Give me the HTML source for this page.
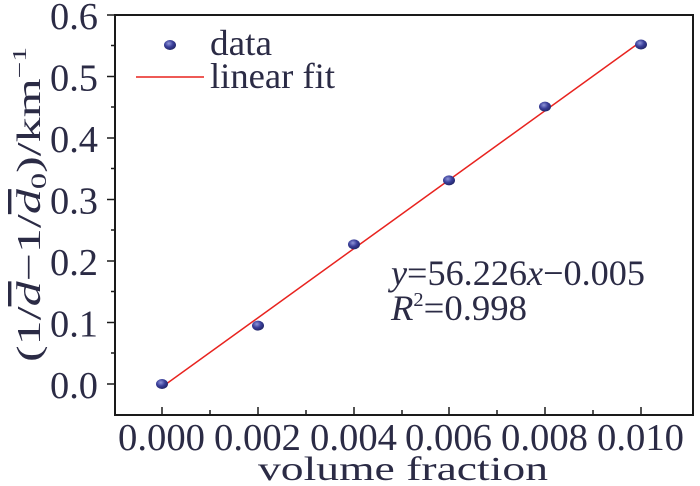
<!DOCTYPE html>
<html><head><meta charset="utf-8"><style>
html,body{margin:0;padding:0;background:#fff;}
svg{display:block;font-family:"Liberation Serif","Times New Roman",serif;fill:#2b2b45;}
</style></head><body>
<svg width="700" height="486" viewBox="0 0 700 486" xmlns="http://www.w3.org/2000/svg">
<g stroke="#1a1a1a" stroke-width="2" fill="none">
<rect x="115" y="15" width="578" height="400"/>
</g>
<g stroke="#1a1a1a" stroke-width="1.5">
<line x1="107" y1="384" x2="115" y2="384"/>
<line x1="107" y1="322.5" x2="115" y2="322.5"/>
<line x1="107" y1="261" x2="115" y2="261"/>
<line x1="107" y1="199.5" x2="115" y2="199.5"/>
<line x1="107" y1="138" x2="115" y2="138"/>
<line x1="107" y1="76.5" x2="115" y2="76.5"/>
<line x1="107" y1="15" x2="115" y2="15"/>
<line x1="111" y1="353" x2="115" y2="353"/>
<line x1="111" y1="291.5" x2="115" y2="291.5"/>
<line x1="111" y1="230" x2="115" y2="230"/>
<line x1="111" y1="168.5" x2="115" y2="168.5"/>
<line x1="111" y1="107" x2="115" y2="107"/>
<line x1="111" y1="45.5" x2="115" y2="45.5"/>
<line x1="162" y1="407" x2="162" y2="415"/>
<line x1="210" y1="410" x2="210" y2="415"/>
<line x1="258" y1="407" x2="258" y2="415"/>
<line x1="306" y1="410" x2="306" y2="415"/>
<line x1="354" y1="407" x2="354" y2="415"/>
<line x1="402" y1="410" x2="402" y2="415"/>
<line x1="449" y1="407" x2="449" y2="415"/>
<line x1="497" y1="410" x2="497" y2="415"/>
<line x1="545" y1="407" x2="545" y2="415"/>
<line x1="593" y1="410" x2="593" y2="415"/>
<line x1="641" y1="407" x2="641" y2="415"/>
</g>
<g font-size="38">
<text x="50" y="398" textLength="48" lengthAdjust="spacingAndGlyphs">0.0</text>
<text x="50" y="336.5" textLength="48" lengthAdjust="spacingAndGlyphs">0.1</text>
<text x="50" y="275" textLength="48" lengthAdjust="spacingAndGlyphs">0.2</text>
<text x="50" y="213.5" textLength="48" lengthAdjust="spacingAndGlyphs">0.3</text>
<text x="50" y="152" textLength="48" lengthAdjust="spacingAndGlyphs">0.4</text>
<text x="50" y="90.5" textLength="48" lengthAdjust="spacingAndGlyphs">0.5</text>
<text x="50" y="29" textLength="48" lengthAdjust="spacingAndGlyphs">0.6</text>
</g>
<g font-size="38">
<text x="118" y="450" textLength="87" lengthAdjust="spacingAndGlyphs">0.000</text>
<text x="214" y="450" textLength="87" lengthAdjust="spacingAndGlyphs">0.002</text>
<text x="310" y="450" textLength="87" lengthAdjust="spacingAndGlyphs">0.004</text>
<text x="405" y="450" textLength="87" lengthAdjust="spacingAndGlyphs">0.006</text>
<text x="501" y="450" textLength="87" lengthAdjust="spacingAndGlyphs">0.008</text>
<text x="597" y="450" textLength="87" lengthAdjust="spacingAndGlyphs">0.010</text>
</g>
<text x="258" y="480" font-size="34" textLength="290" lengthAdjust="spacingAndGlyphs">volume fraction</text>
<text transform="translate(40,362) rotate(-90)" font-size="34" textLength="315" lengthAdjust="spacingAndGlyphs">(1/<tspan font-style="italic" text-decoration="overline">d</tspan>−1/<tspan font-style="italic" text-decoration="overline">d</tspan><tspan font-size="22" dy="6">0</tspan><tspan dy="-6">)/km</tspan><tspan font-size="20" dy="-14">−1</tspan></text>
<line x1="162" y1="387" x2="641" y2="41.5" stroke="#e8231f" stroke-width="1.5"/>
<defs><radialGradient id="g" cx="0.4" cy="0.35" r="0.7"><stop offset="0" stop-color="#8f95d8"/><stop offset="0.5" stop-color="#3a3f9a"/><stop offset="1" stop-color="#1f2260"/></radialGradient></defs>
<g fill="url(#g)">
<ellipse cx="162" cy="384" rx="6" ry="5"/>
<ellipse cx="258" cy="325.6" rx="6" ry="5"/>
<ellipse cx="354" cy="244.4" rx="6" ry="5"/>
<ellipse cx="449" cy="180.4" rx="6" ry="5"/>
<ellipse cx="545" cy="106.6" rx="6" ry="5"/>
<ellipse cx="641" cy="44.5" rx="6" ry="5"/>
<ellipse cx="170" cy="45" rx="6" ry="5"/>
</g>
<line x1="136" y1="77" x2="204" y2="77" stroke="#e8231f" stroke-width="1.5"/>
<g font-size="36">
<text x="210" y="55" textLength="62" lengthAdjust="spacingAndGlyphs">data</text>
<text x="210" y="88" textLength="125" lengthAdjust="spacingAndGlyphs">linear fit</text>
<text x="391" y="285" textLength="254" lengthAdjust="spacingAndGlyphs"><tspan font-style="italic">y</tspan>=56.226<tspan font-style="italic">x</tspan>−0.005</text>
<text x="391" y="320" textLength="136" lengthAdjust="spacingAndGlyphs"><tspan font-style="italic">R</tspan><tspan font-size="20" dy="-14">2</tspan><tspan dy="14">=0.998</tspan></text>
</g>
</svg>
</body></html>
